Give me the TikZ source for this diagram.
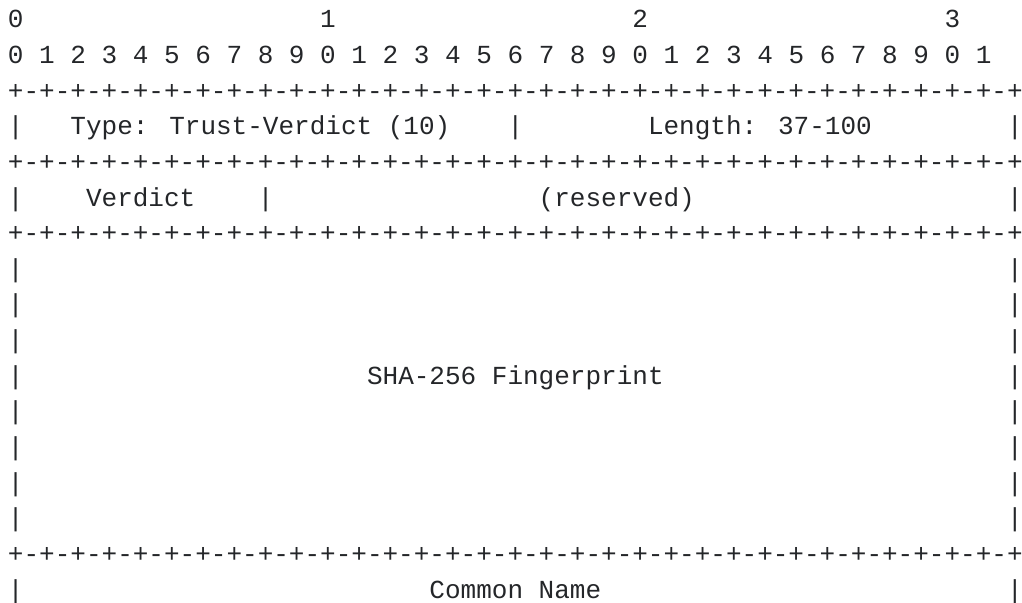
\documentclass[tikz,border=0pt]{standalone}
\usepackage{fontspec}
\newfontfamily\asciimono{Liberation Mono}
\definecolor{ink}{RGB}{36,38,41}
% one character cell is 15.61 units wide, one line is 35.625 units tall
\tikzset{ch/.style={font=\asciimono\fontsize{13.008pt}{15pt}\selectfont,
  text=ink, inner sep=0pt, outer sep=0pt, anchor=base west}}
\newcommand\putat[4]{\node[ch] (#1) at ({8+15.61*#2},{28+35.625*#3}) {#4};}
\newcommand\pairs{+-+-+-+-+-+-+-+-}
\newcommand\rulestr{\pairs\pairs\pairs\pairs+}
\begin{document}
\begin{tikzpicture}[x=0.5pt,y=-0.5pt]
\useasboundingbox (0,0) rectangle (1022,603);
% bit numbering
\putat{tens0}{0}{0}{0}
\putat{tens1}{20}{0}{1}
\putat{tens2}{40}{0}{2}
\putat{tens3}{60}{0}{3}
\putat{bits}{0}{1}{0 1 2 3 4 5 6 7 8 9 0 1 2 3 4 5 6 7 8 9 0 1 2 3 4 5 6 7 8 9 0 1}
% horizontal borders
\foreach \r in {2,4,6,15} {\putat{rule\r}{0}{\r}{\rulestr}}
% vertical borders
\foreach \r in {3,5,7,8,9,10,11,12,13,14,16} {
  \putat{left\r}{0}{\r}{|}
  \putat{right\r}{64}{\r}{|}
}
\putat{mid3}{32}{3}{|}
\putat{mid5}{16}{5}{|}
% field labels
\putat{type}{4}{3}{Type: Trust-Verdict (10)}
\putat{length}{41}{3}{Length: 37-100}
\putat{verdict}{5}{5}{Verdict}
\putat{reserved}{34}{5}{(reserved)}
\putat{fingerprint}{23}{10}{SHA-256 Fingerprint}
\putat{cname}{27}{16}{Common Name}
\end{tikzpicture}
\end{document}
